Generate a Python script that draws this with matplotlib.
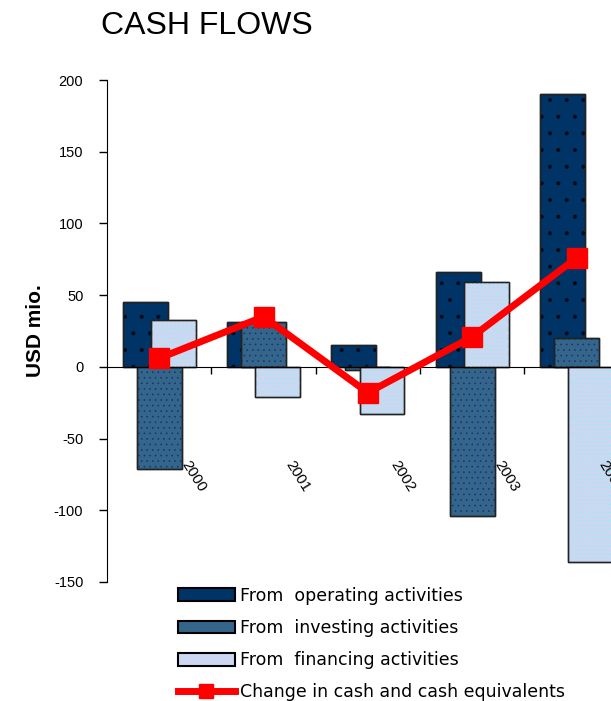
import numpy as np
import matplotlib
matplotlib.use('Agg')
from matplotlib import pyplot as plt
from matplotlib.lines import Line2D
from matplotlib.patches import Patch

plt.rcParams['font.family'] = ['Liberation Sans', 'DejaVu Sans']

# cash flow components, USD mio.
years = ['2000', '2001', '2002', '2003', '2004']
operating = [45, 31, 15, 66, 190]
investing = [-71, 31, -2, -104, 20]
financing = [33, -21, -33, 59, -136]
net_change = [6, 35, -18, 21, 76]

yticks = [-150, -100, -50, 0, 50, 100, 150, 200]

c_oper = '#003366'
c_inv = '#33668a'
c_fin = '#ccd8f2'
c_line = '#ff0000'


def dotted_bar(ax, x, h, width, face, dot, hatch, z):
    # plain bar with outline, then a dotted overlay on top
    ax.bar(x, h, width, color=face, edgecolor='#222222', linewidth=1, zorder=z)
    ax.bar(x, h, width, color='none', edgecolor=dot, linewidth=0,
           hatch=hatch, zorder=z + 0.1)
    ax.bar(x, h, width, color='none', edgecolor='#222222', linewidth=1,
           zorder=z + 0.2)


fig = plt.figure(figsize=(6.11, 7.01), dpi=100)
ax = fig.add_axes([0.1751, 0.1698, 0.854, 0.716])

idx = np.arange(len(years))
w = 0.43
off = 0.135
plt.rcParams['hatch.linewidth'] = 0.4
dotted_bar(ax, idx - off, operating, w, c_oper, '#000814', '.', 2)
dotted_bar(ax, idx, investing, w, c_inv, '#1a2f70', '...', 3)
dotted_bar(ax, idx + off, financing, w, c_fin, '#8ff0f0', '....', 4)

ax.plot(idx, net_change, color=c_line, lw=5, marker='s', ms=15,
        solid_joinstyle='miter', zorder=6)

ax.set_xlim(-0.5, len(years) - 0.5)
ax.set_ylim(-150, 200)
ax.set_yticks(yticks)
ax.set_yticklabels([str(v) for v in yticks], fontsize=10.5)
ax.tick_params(axis='y', direction='out', length=6, width=1, pad=11)

# category axis runs along zero, ticks at group boundaries
ax.spines['bottom'].set_position(('data', 0))
ax.spines['bottom'].set_zorder(5)
ax.spines['top'].set_visible(False)
ax.spines['right'].set_visible(False)
ax.set_xticks(idx[:-1] + 0.5)
ax.set_xticklabels([])
ax.tick_params(axis='x', direction='out', length=5, width=1)

for i, yr in enumerate(years):
    ax.text(i + 0.33, -76, yr, rotation=-58, ha='center', va='center',
            rotation_mode='anchor', fontsize=11, zorder=7)

ax.set_ylabel('USD mio.', fontsize=15, fontweight='bold')
ax.yaxis.set_label_coords(-0.119, 0.5)

fig.text(0.165, 0.963, 'CASH FLOWS', fontsize=23, ha='left', va='center')

handles = [
    Patch(facecolor=c_oper, edgecolor='black', linewidth=1.5),
    Patch(facecolor=c_inv, edgecolor='black', linewidth=1.5),
    Patch(facecolor=c_fin, edgecolor='black', linewidth=1.5),
    Line2D([0], [0], color=c_line, lw=5, marker='s', ms=10),
]
labels = ['From  operating activities', 'From  investing activities',
          'From  financing activities', 'Change in cash and cash equivalents']
fig.legend(handles, labels, loc='upper left', bbox_to_anchor=(0.291, 0.163),
           frameon=False, handlelength=3.3, handleheight=0.75,
           handletextpad=0.3, labelspacing=0.82, borderpad=0,
           borderaxespad=0, prop={'family': 'DejaVu Sans', 'size': 12.5})

fig.savefig('out.png', dpi=100)
